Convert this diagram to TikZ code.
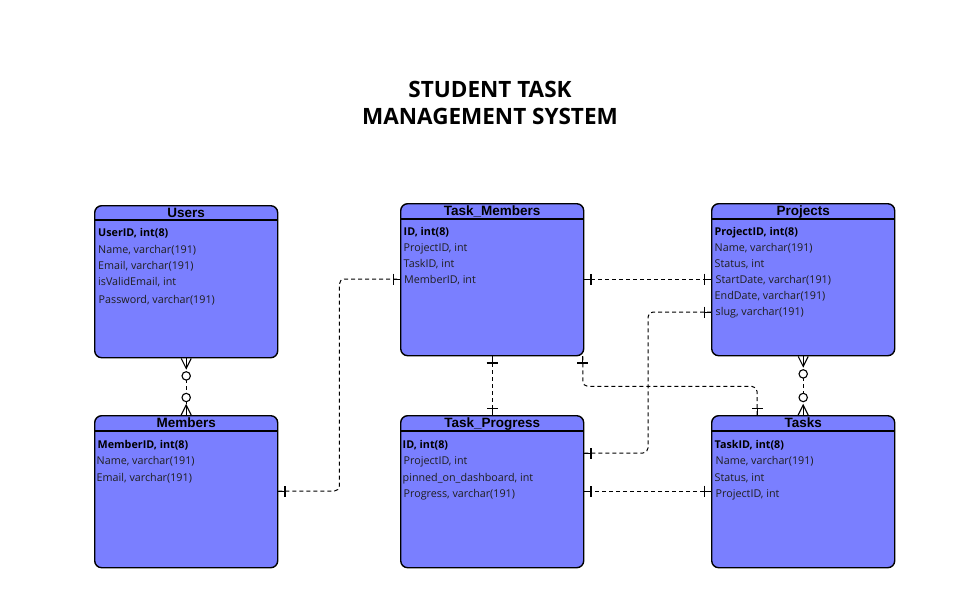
\documentclass[tikz,border=0pt]{standalone}
\usepackage{fontspec}
\setmainfont{Open Sans}
\newfontfamily\hdrfont{Liberation Sans}
\usetikzlibrary{calc}
\definecolor{entfill}{RGB}{122,127,255}
\begin{document}
\begin{tikzpicture}[x=1pt,y=-1pt,
  entity/.style={draw=black, line width=1.4pt, fill=entfill, rounded corners=7pt,
    inner sep=0pt, anchor=north west, minimum width=183pt, minimum height=152pt},
  hdrline/.style={line width=1.1pt},
  hdr/.style={font=\hdrfont\bfseries\fontsize{13.5}{15}\selectfont, anchor=base, inner sep=0pt},
  fld/.style={font=\fontsize{10.75}{12}\selectfont, anchor=base west, inner sep=0pt, text=black!88},
  key/.style={fld, font=\bfseries\fontsize{10.75}{12}\selectfont, text=black},
  rel/.style={line width=1pt, dash pattern=on 4pt off 3pt, rounded corners=5pt},
  obar/.pic={\draw[line width=1.2pt] (-6.5,-5.5) -- (-6.5,5.5); \draw[line width=1pt] (0,0) -- (-6.5,0);},
  crow/.pic={\draw[line width=1.1pt] (0,-5) -- (-10,0) -- (0,5); \draw[line width=1.1pt] (0,0) -- (-10,0);
             \draw[line width=1.1pt, fill=white] (-17.5,0) circle (4.2);},
  title/.style={font=\bfseries\fontsize{22.5}{27.5}\selectfont, align=center, inner sep=0pt}
]
\useasboundingbox (0,0) rectangle (979,600);

% title
\node[title, anchor=north] (title) at (490,81) {STUDENT TASK\\MANAGEMENT SYSTEM};

% ---------- Users
\node[entity] (users) at (94,205) {};
\draw[hdrline] ($(users.north west)+(0,15)$) -- ($(users.north east)+(0,15)$);
\node[hdr] (usersh) at ($(users.north)+(0,12)$) {Users};
\node[key] (u1) at ($(users.north west)+(4,31)$) {UserID, int(8)};
\node[fld] (u2) at ($(users.north west)+(4,48)$) {Name, varchar(191)};
\node[fld] (u3) at ($(users.north west)+(4,64.5)$) {Email, varchar(191)};
\node[fld] (u4) at ($(users.north west)+(4,80.5)$) {isValidEmail, int};
\node[fld] (u5) at ($(users.north west)+(4.5,98)$) {Password, varchar(191)};

% ---------- Task_Members
\node[entity] (tm) at (400,203) {};
\draw[hdrline] ($(tm.north west)+(0,16)$) -- ($(tm.north east)+(0,16)$);
\node[hdr] (tmh) at ($(tm.north)+(0,12)$) {Task\_Members};
\node[key] (tm1) at ($(tm.north west)+(3.5,32.5)$) {ID, int(8)};
\node[fld] (tm2) at ($(tm.north west)+(3.5,48.5)$) {ProjectID, int};
\node[fld] (tm3) at ($(tm.north west)+(3.5,64.5)$) {TaskID, int};
\node[fld] (tm4) at ($(tm.north west)+(4,80)$) {MemberID, int};

% ---------- Projects
\node[entity] (proj) at (711,203) {};
\draw[hdrline] ($(proj.north west)+(0,16)$) -- ($(proj.north east)+(0,16)$);
\node[hdr] (projh) at ($(proj.north)+(0,12)$) {Projects};
\node[key] (p1) at ($(proj.north west)+(3.5,32.5)$) {ProjectID, int(8)};
\node[fld] (p2) at ($(proj.north west)+(3.5,48.5)$) {Name, varchar(191)};
\node[fld] (p3) at ($(proj.north west)+(3.5,64.5)$) {Status, int};
\node[fld] (p4) at ($(proj.north west)+(4.5,80.5)$) {StartDate, varchar(191)};
\node[fld] (p5) at ($(proj.north west)+(3.5,96.5)$) {EndDate, varchar(191)};
\node[fld] (p6) at ($(proj.north west)+(4.5,112.5)$) {slug, varchar(191)};

% ---------- Members
\node[entity] (mem) at (94,415) {};
\draw[hdrline] ($(mem.north west)+(0,16)$) -- ($(mem.north east)+(0,16)$);
\node[hdr] (memh) at ($(mem.north)+(0,12)$) {Members};
\node[key] (m1) at ($(mem.north west)+(3.5,33)$) {MemberID, int(8)};
\node[fld] (m2) at ($(mem.north west)+(2.5,49.5)$) {Name, varchar(191)};
\node[fld] (m3) at ($(mem.north west)+(2.5,66)$) {Email, varchar(191)};

% ---------- Task_Progress
\node[entity] (tp) at (400,415) {};
\draw[hdrline] ($(tp.north west)+(0,16)$) -- ($(tp.north east)+(0,16)$);
\node[hdr] (tph) at ($(tp.north)+(0,12)$) {Task\_Progress};
\node[key] (tp1) at ($(tp.north west)+(2.5,33)$) {ID, int(8)};
\node[fld] (tp2) at ($(tp.north west)+(3.5,49.5)$) {ProjectID, int};
\node[fld] (tp3) at ($(tp.north west)+(2.5,66)$) {pinned\_on\_dashboard, int};
\node[fld] (tp4) at ($(tp.north west)+(3.5,82)$) {Progress, varchar(191)};

% ---------- Tasks
\node[entity] (tasks) at (711,415) {};
\draw[hdrline] ($(tasks.north west)+(0,16)$) -- ($(tasks.north east)+(0,16)$);
\node[hdr] (tasksh) at ($(tasks.north)+(0,12)$) {Tasks};
\node[key] (t1) at ($(tasks.north west)+(3.5,33)$) {TaskID, int(8)};
\node[fld] (t2) at ($(tasks.north west)+(4.5,49.5)$) {Name, varchar(191)};
\node[fld] (t3) at ($(tasks.north west)+(3.5,66)$) {Status, int};
\node[fld] (t4) at ($(tasks.north west)+(4.5,82)$) {ProjectID, int};

% ---------- connectors
% Users -- Members (many optional both sides)
\draw[rel] (users.south) -- (mem.north);
\pic[rotate=90] at (users.south) {crow};
\pic[rotate=-90] at (mem.north) {crow};

% Members -- Task_Members
\coordinate (a1) at ($(mem.north east)+(0,76)$);
\coordinate (a2) at ($(tm.north west)+(0,76)$);
\draw[rel] (a1) -- ++(61,0) |- (a2);
\pic[rotate=180] at (a1) {obar};
\pic at (a2) {obar};

% Task_Members -- Projects
\coordinate (b1) at ($(tm.north east)+(0,76)$);
\coordinate (b2) at ($(proj.north west)+(0,76)$);
\draw[rel] (b1) -- (b2);
\pic[rotate=180] at (b1) {obar};
\pic at (b2) {obar};

% Projects (slug) -- Task_Progress
\coordinate (c1) at ($(proj.north west)+(0,109)$);
\coordinate (c2) at ($(tp.north east)+(0,38)$);
\draw[rel] (c1) -- ++(-63,0) |- (c2);
\pic at (c1) {obar};
\pic[rotate=180] at (c2) {obar};

% Task_Members -- Task_Progress
\draw[rel] (tm.south) -- (tp.north);
\pic[rotate=90] at (tm.south) {obar};
\pic[rotate=-90] at (tp.north) {obar};

% Task_Members -- Tasks
\coordinate (d1) at ($(tm.south east)+(-1.5,0)$);
\coordinate (d2) at ($(tasks.north west)+(46,0)$);
\draw[rel] (d1) -- ++(0,30) -| (d2);
\pic[rotate=90] at (d1) {obar};
\pic[rotate=-90] at (d2) {obar};

% Projects -- Tasks (many optional)
\draw[rel] (proj.south) -- (tasks.north);
\pic[rotate=90] at (proj.south) {crow};
\pic[rotate=-90] at (tasks.north) {crow};

% Tasks -- Task_Progress
\coordinate (e1) at ($(tasks.north west)+(0,76)$);
\coordinate (e2) at ($(tp.north east)+(0,76)$);
\draw[rel] (e1) -- (e2);
\pic at (e1) {obar};
\pic[rotate=180] at (e2) {obar};
\end{tikzpicture}
\end{document}
